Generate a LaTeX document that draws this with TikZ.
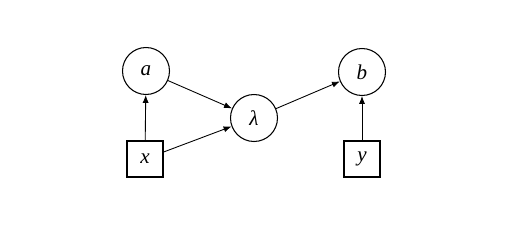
\documentclass[tikz,border=0pt]{standalone}
\usepackage{fontspec}
\setmainfont{Liberation Serif}
\usetikzlibrary{arrows.meta}

\begin{document}
\begin{tikzpicture}[x=0.02cm, y=-0.02cm, font=\large\itshape,
    latent/.style={circle, draw, line width=0.6pt, minimum size=0.94cm, inner sep=0pt},
    observed/.style={rectangle, draw, line width=0.6pt, minimum size=0.72cm, inner sep=0pt},
    edge/.style={-{Latex[length=4.5pt, width=3.5pt]}, line width=0.5pt}]

% Fix the margins
\useasboundingbox (0,0) rectangle (511,230);

% Latent variables
\node[latent] (a) at (146,71) {a};
\node[latent] (lambda) at (254,118) {λ};
\node[latent] (b) at (362,72) {b};

% Observed variables
\node[observed] (x) at (145,159) {x};
\node[observed] (y) at (362,159) {y};

% Dependencies
\draw[edge] (x) -- (a);
\draw[edge] (a) -- (lambda);
\draw[edge] (x) -- (lambda);
\draw[edge] (lambda) -- (b);
\draw[edge] (y) -- (b);

\end{tikzpicture}
\end{document}
